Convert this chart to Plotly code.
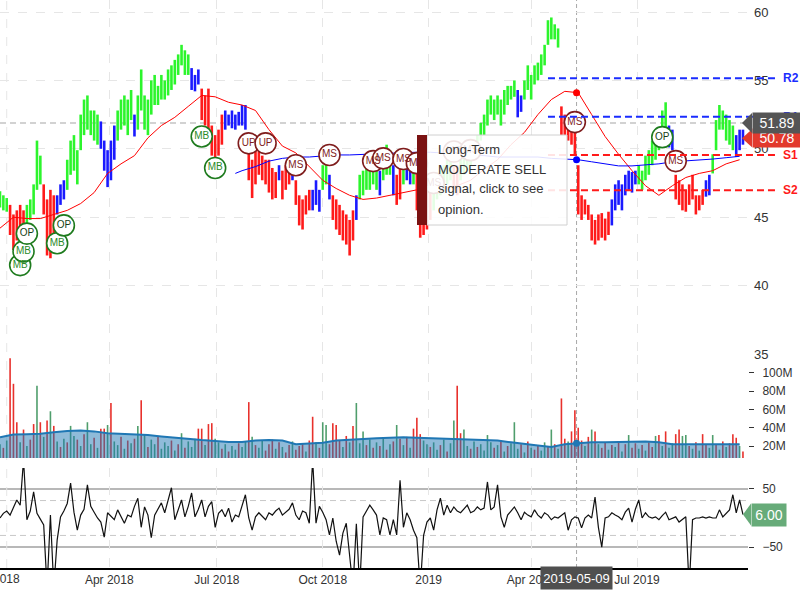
import pandas as pd
import plotly.graph_objects as go

# ---------------- calendar ----------------
holidays = ["2018-01-01", "2018-01-15", "2018-02-19", "2018-03-30", "2018-05-28",
            "2018-07-04", "2018-09-03", "2018-11-22", "2018-12-05", "2018-12-25",
            "2019-01-01", "2019-01-21", "2019-02-18", "2019-04-19", "2019-05-27",
            "2019-07-04", "2019-09-02"]
axis_start, axis_end = "2017-12-26", "2019-10-03"
tick_dates = ["2018-01-02", "2018-04-02", "2018-07-02", "2018-10-01",
              "2019-01-02", "2019-04-01", "2019-07-01"]
tick_text = ["2018", "Apr 2018", "Jul 2018", "Oct 2018", "2019", "Apr 2019", "Jul 2019"]

# ---------------- price bars (one bar per two sessions) ----------------
bar_low = [45.7, 45.5, 45.4, 43.7, 42.6, 43.3, 44.1, 43.7, 44.4, 44.8,
           45.2, 47.0, 47.4, 45.2, 42.2, 42.0, 43.5, 45.2, 45.9, 46.3,
           47.0, 48.1, 48.4, 47.4, 49.9, 51.0, 51.4, 51.0, 50.6, 50.3,
           50.0, 48.4, 47.2, 47.7, 49.2, 50.6, 51.4, 51.7, 51.0, 52.1,
           50.9, 51.4, 52.8, 51.4, 51.0, 52.5, 53.2, 53.2, 53.6, 53.6,
           53.9, 54.3, 54.7, 55.4, 56.1, 55.4, 55.4, 54.3, 54.2, 54.7,
           52.1, 51.7, 51.4, 49.5, 49.2, 49.5, 50.3, 51.4, 51.7, 51.5,
           51.4, 51.7, 51.7, 51.4, 47.7, 46.4, 47.4, 48.1, 47.7, 47.4,
           46.8, 46.3, 46.4, 47.7, 46.3, 47.0, 47.4, 47.7, 45.9, 44.4,
           44.1, 45.2, 45.5, 45.5, 45.9, 45.4, 47.0, 47.4, 46.3, 44.8,
           44.1, 43.7, 43.3, 43.0, 42.2, 43.3, 44.8, 46.3, 46.6, 47.0,
           47.0, 47.4, 47.0, 46.6, 47.7, 48.1, 48.1, 46.6, 45.9, 46.3,
           47.4, 47.7, 47.4, 47.4, 45.5, 43.5, 43.7, 44.1, 44.8, 45.5,
           46.3, 46.6, 47.0, 47.4, 47.7, 47.0, 46.6, 47.7, 48.1, 48.4,
           48.8, 49.2, 49.5, 50.6, 51.0, 51.7, 52.5, 52.1, 52.5, 51.7,
           52.5, 53.2, 53.6, 53.8, 52.3, 52.7, 53.6, 54.3, 53.6, 54.7,
           55.0, 55.4, 56.1, 57.6, 58.0, 58.0, 57.4, 51.0, 51.0, 50.6,
           50.3, 49.5, 45.2, 44.8, 45.2, 44.8, 43.3, 43.0, 43.3, 43.5,
           43.3, 43.7, 44.4, 45.5, 45.9, 45.5, 46.6, 47.0, 46.8, 47.4,
           47.4, 47.0, 47.7, 48.1, 48.8, 49.2, 49.9, 51.0, 51.4, 50.1,
           49.9, 46.3, 45.9, 45.5, 45.4, 45.9, 46.3, 45.2, 45.5, 45.9,
           46.5, 46.6, 48.2, 49.9, 51.4, 51.4, 50.6, 50.3, 49.9, 49.4,
           49.9, 50.3]
bar_high = [46.9, 46.6, 46.4, 45.9, 45.2, 45.5, 45.9, 45.5, 45.9, 46.3,
            47.4, 50.6, 49.5, 47.4, 46.3, 47.0, 46.6, 46.6, 47.4, 47.7,
            49.2, 50.6, 51.0, 49.9, 52.5, 53.6, 53.9, 52.8, 52.8, 52.5,
            52.0, 50.6, 49.9, 50.6, 51.7, 52.8, 53.6, 53.9, 53.6, 54.3,
            52.5, 53.9, 55.8, 53.9, 53.6, 55.0, 55.4, 54.6, 55.4, 55.0,
            55.8, 56.1, 56.5, 56.9, 57.6, 57.2, 56.9, 55.9, 55.4, 55.8,
            54.4, 53.9, 54.4, 51.7, 51.0, 51.4, 52.5, 52.8, 52.5, 52.8,
            52.5, 52.7, 53.2, 53.2, 49.9, 49.2, 49.9, 49.9, 49.5, 49.2,
            49.2, 48.6, 48.3, 48.8, 48.4, 48.8, 49.2, 48.8, 47.7, 46.6,
            46.3, 46.6, 47.0, 47.0, 47.7, 47.0, 48.8, 49.2, 48.1, 46.6,
            46.3, 45.9, 45.5, 45.2, 44.8, 45.5, 46.6, 48.1, 48.4, 48.6,
            48.8, 49.2, 48.8, 48.4, 49.5, 50.3, 49.9, 48.8, 48.1, 48.8,
            49.5, 49.9, 49.5, 49.2, 48.8, 47.0, 46.6, 47.0, 47.4, 47.7,
            48.1, 48.4, 48.8, 49.2, 49.2, 48.8, 48.8, 49.2, 49.9, 50.3,
            50.6, 50.6, 51.0, 51.9, 52.5, 53.6, 53.9, 53.6, 53.9, 53.6,
            54.3, 54.6, 54.6, 55.0, 54.3, 53.9, 55.0, 56.1, 55.4, 56.1,
            56.3, 56.9, 57.6, 59.4, 59.6, 59.1, 58.8, 53.1, 52.5, 52.1,
            52.5, 51.7, 48.8, 46.6, 46.3, 45.9, 45.2, 44.8, 45.2, 45.3,
            44.9, 45.4, 46.3, 47.4, 47.7, 47.4, 48.1, 48.4, 48.3, 48.4,
            48.8, 48.4, 49.5, 49.9, 50.6, 50.6, 51.4, 52.8, 53.4, 51.7,
            51.4, 48.1, 47.7, 47.4, 47.0, 47.4, 48.1, 46.6, 46.6, 47.0,
            47.7, 48.1, 49.6, 52.1, 53.2, 52.8, 52.5, 52.1, 51.7, 51.0,
            51.4, 51.4]
# signal colour of each bar: g = bullish, b = neutral, r = bearish (run lengths)
signal_runs = [("g", 3), ("r", 5), ("g", 5), ("r", 4), ("b", 3), ("g", 10), ("b", 5),
               ("g", 5), ("b", 1), ("g", 16), ("b", 3), ("r", 7), ("b", 7), ("r", 9),
               ("b", 1), ("r", 3), ("b", 1), ("r", 5), ("b", 3), ("g", 2), ("b", 1),
               ("r", 7), ("b", 1), ("g", 6), ("b", 1), ("g", 3), ("b", 1), ("r", 2),
               ("g", 1), ("b", 2), ("g", 1), ("r", 5), ("g", 6), ("r", 2), ("g", 17),
               ("b", 2), ("g", 11), ("r", 15), ("b", 8), ("g", 9), ("b", 2), ("r", 9),
               ("b", 2), ("g", 7), ("b", 3)]

# moving averages, sampled every 4th bar
red_ma = [44.2, 45.0, 44.9, 44.9, 45.2, 45.5, 46.0, 46.8, 48.2, 48.9,
          49.5, 50.8, 51.7, 52.3, 53.1, 53.9, 53.8, 53.4, 53.2, 52.8,
          51.4, 50.2, 49.7, 48.7, 47.7, 47.1, 46.6, 46.3, 46.4, 46.6,
          46.8, 47.0, 47.0, 47.1, 47.3, 47.7, 48.5, 49.2, 50.3, 51.2,
          52.5, 53.6, 54.2, 54.1, 52.5, 50.9, 49.6, 48.4, 47.3, 46.6,
          47.3, 47.9, 48.2, 48.4, 48.9, 49.2]
blue_ma_first = 70
blue_ma = [48.2, 48.4, 48.7, 49.1, 49.3, 49.4, 49.4, 49.5, 49.55, 49.55,
           49.6, 49.6, 49.7, 49.7, 49.75, 49.75, 49.7, 49.6, 49.55, 49.5,
           49.4, 49.4, 49.4, 49.4, 49.3, 49.25, 49.2, 49.05, 48.9, 48.75,
           48.75, 48.8, 48.9, 49.05, 49.1, 49.2, 49.25, 49.35, 49.45]

# support / resistance
sr_start = "2019-04-15"
sr_names = ["R2", "R1", "S1", "S2"]
sr_values = [55.15, 52.35, 49.55, 46.97]

# signal bubbles (bar index, price, label)
sig_idx = [6, 7, 8, 17, 19, 60, 64, 74, 79, 88, 98, 111, 114, 120, 124,
           129, 135, 140, 171, 197, 201]
sig_price = [41.5, 42.5, 43.8, 43.1, 44.4, 50.9, 48.6, 50.4, 50.4, 48.8, 49.55,
             49.1, 49.3, 49.25, 48.95, 47.5, 49.8, 49.9, 51.95, 50.85, 49.1]
sig_text = ["MB", "MB", "OP", "MB", "OP", "MB", "MB", "UP", "UP", "MS", "MS",
            "MS", "MS", "MS", "MS", "MS", "MS", "MS", "MS", "OP", "MS"]

# ---------------- volume (millions) ----------------
volume = [22, 18, 26, 116, 88, 46, 24, 38, 20, 27,
          44, 86, 46, 30, 48, 58, 42, 25, 19, 28,
          24, 42, 31, 27, 20, 33, 46, 22, 29, 18,
          39, 39, 43, 67, 25, 21, 30, 17, 26, 23,
          28, 42, 70, 33, 19, 27, 22, 31, 17, 24,
          20, 26, 15, 22, 34, 18, 25, 19, 28, 39,
          39, 21, 44, 45, 28, 24, 17, 22, 14, 20,
          16, 23, 19, 25, 68, 30, 21, 18, 26, 15,
          22, 27, 17, 24, 19, 13, 21, 25, 16, 20,
          23, 14, 26, 52, 24, 18, 46, 43, 22, 45,
          43, 26, 19, 31, 24, 42, 67, 23, 36, 21,
          27, 18, 24, 20, 29, 16, 22, 25, 43, 28,
          21, 30, 18, 39, 51, 33, 26, 22, 19, 24,
          16, 21, 27, 14, 23, 48, 86, 34, 38, 20,
          17, 25, 19, 22, 15, 32, 24, 18, 21, 26,
          14, 20, 23, 46, 17, 22, 13, 25, 18, 16,
          21, 15, 24, 19, 38, 22, 17, 72, 28, 25,
          36, 59, 40, 26, 20, 30, 38, 36, 22, 18,
          24, 16, 21, 19, 25, 14, 22, 32, 18, 23,
          17, 21, 15, 24, 19, 31, 32, 20, 36, 18,
          23, 33, 38, 31, 32, 20, 17, 24, 15, 33,
          21, 18, 32, 22, 16, 25, 19, 23, 33, 29,
          20, 14]
volume_dir = ("grgrrrgrgr" "rgrgrgrgrg" "rggrgrggrg" "rrgrggrgrg" "rgrgrggrgg"
              "grgrgrgggr" "rgrrggrgrg" "grggrgrggr" "rrgrgrrgrr" "rgrrgrggrr"
              "rrgrgrgggr" "grgrgrgrgr" "grgrrrggrg" "grgrggrrgg" "rgrggggrgr"
              "grgggrgrgr" "rggrgrgrrg" "rrrrgrgrgr" "rgrgrgrgrr" "grgrrgrgrg"
              "grrggrgrgr" "rggrgrgrrr" "gr")
volume_ma = [29.5, 32.5, 33, 33.5, 35, 36.5, 37, 36, 34, 33.5,
             33, 32, 30.5, 29, 28, 26.5, 25.5, 24.5, 24.5, 26,
             26.5, 26, 22, 22.5, 23.5, 26, 27, 28, 28.5, 29,
             29.5, 29, 28.5, 28.5, 28, 27.5, 27, 26, 24, 22,
             20.5, 19, 22, 23, 24, 24, 24.5, 25, 25, 24,
             22, 22, 22, 22, 22, 22]

# ---------------- oscillator ----------------
osc = [0, 8, 12, 5, 18, 31, 22, 100, -3, 12,
       45, 8, -2, -12, -120, 5, -120, -38, 2, 12,
       25, 60, 10, -21, 5, 15, 57, 20, 10, 0,
       -7, -33, 9, 2, -3, 14, 2, -9, 5, 2,
       20, 34, -16, 19, 5, -34, 5, 15, 26, 9,
       30, 52, -3, 15, 31, 2, 20, 43, 2, 15,
       31, 2, 20, 28, -16, 8, 14, 2, 17, -7,
       5, 2, 20, 40, 0, -21, 2, 9, 3, -3,
       9, 5, 12, 17, 5, 10, 15, 26, 5, -3,
       12, 9, -9, 100, -9, 20, 10, -3, -29, 0,
       -40, -64, -26, -9, -76, -120, -10, -120, 2, 12,
       22, 14, 5, -29, 0, -3, -29, -3, -29, 65,
       -16, 9, -3, -21, -34, -120, -30, -7, 0, -21,
       14, 34, 5, 22, 9, 19, 12, 9, 15, 22,
       9, 12, 19, 14, 17, 62, 14, 19, 57, 2,
       -16, 5, 12, 19, 9, -3, 10, 5, 2, 14,
       5, 0, 9, 5, -3, 2, 0, 4, 9, -21,
       -3, 2, 0, -17, 0, 5, 0, 36, -16, -50,
       0, 2, 9, 5, 2, -3, 10, 17, -7, 15,
       31, 0, 9, 2, 0, 2, -3, 4, 10, -3,
       0, 2, -7, -3, 2, -120, -3, 0, 0, 2,
       0, 2, 0, 0, 14, 2, 9, 14, 40, 9,
       31, 6]
osc_bands = [50, 30, -30, -50]

# crosshair / hover readout
cross_date = "2019-05-09"
cross_price = 51.89
cross_red_ma = 54.1
cross_blue_ma = 49.2
cross_vol_ma = 23
last_close = 50.78
last_osc = 6.00

# ---------------- build ----------------
trading_days = pd.bdate_range(axis_start, axis_end, freq="C", holidays=holidays)
n = min(len(bar_low), len(bar_high), len(volume), len(osc))
dates = list(trading_days[::2][:n])
signal = "".join(c * k for c, k in signal_runs)[:n]

PW, PH = 748.0, 568.0
FONT = "Liberation Sans, Arial, sans-serif"
price_rng = [35, 60.877]
price_dom = [(PH - 354) / PH, 1.0]
vol_rng = [6.9, 119.5]
vol_dom = [(PH - 458) / PH, (PH - 355) / PH]
osc_rng = [-86, 86]
osc_dom = [0.0, (PH - 468) / PH]


def units_per_px(rng, dom):
    return (rng[1] - rng[0]) / ((dom[1] - dom[0]) * PH)


def xfrac(d):
    return trading_days.get_loc(pd.Timestamp(d)) / (len(trading_days) - 1)


fig = go.Figure()

# price bars by signal colour
bar_colors = {"g": "#2cf52c", "b": "#1a1aff", "r": "#ff1a1a"}
for key in ["g", "b", "r"]:
    xs, ys = [], []
    for i in range(n):
        if signal[i] == key:
            xs += [dates[i], dates[i], None]
            ys += [bar_low[i], bar_high[i], None]
    fig.add_trace(go.Scatter(x=xs, y=ys, mode="lines", line=dict(color=bar_colors[key], width=2.6),
                             hoverinfo="skip", showlegend=False, xaxis="x", yaxis="y"))

# moving averages
red_idx = list(range(0, n, 4))[:len(red_ma)]
fig.add_trace(go.Scatter(x=[dates[i] for i in red_idx], y=red_ma, mode="lines",
                         line=dict(color="#ff0000", width=1), showlegend=False, xaxis="x", yaxis="y"))
blue_idx = ([blue_ma_first] + list(range(blue_ma_first + 2, n, 4)))[:len(blue_ma)]
fig.add_trace(go.Scatter(x=[dates[i] for i in blue_idx], y=blue_ma, mode="lines",
                         line=dict(color="#0000ff", width=1), showlegend=False, xaxis="x", yaxis="y"))

# signal bubbles
green_sig = {"MB": "#2a8a2a", "OP": "#173f17"}
for group, edge in [(["MB", "OP"], "#1e7b1e"), (["MS", "UP"], "#7f1d1d")]:
    sel = [k for k, t in enumerate(sig_text) if t in group]
    fig.add_trace(go.Scatter(
        x=[dates[sig_idx[k]] for k in sel], y=[sig_price[k] for k in sel],
        mode="markers+text", text=[sig_text[k] for k in sel], textposition="middle center",
        textfont=dict(family=FONT, size=10,
                      color=[green_sig.get(sig_text[k], "#7f1d1d") for k in sel]),
        marker=dict(symbol="circle", size=21, color="white", line=dict(color=edge, width=1.6)),
        showlegend=False, xaxis="x", yaxis="y"))

# volume bars
vol_colors = {"r": "#e8312c", "g": "#4f9e6c"}
for key in ["g", "r"]:
    xs, ys = [], []
    for i in range(n):
        if volume_dir[i] == key:
            xs += [dates[i], dates[i], None]
            ys += [0, volume[i], None]
    fig.add_trace(go.Scatter(x=xs, y=ys, mode="lines", line=dict(color=vol_colors[key], width=1.6),
                             showlegend=False, xaxis="x", yaxis="y2"))
vidx = list(range(0, n, 4))[:len(volume_ma)]
fig.add_trace(go.Scatter(x=[dates[i] for i in vidx], y=volume_ma, mode="lines", fill="tozeroy",
                         fillcolor="rgba(31,119,180,0.5)", line=dict(color="#1f77b4", width=2),
                         showlegend=False, xaxis="x", yaxis="y2"))

# oscillator
fig.add_trace(go.Scatter(x=dates, y=osc[:n], mode="lines", line=dict(color="#111111", width=1.2),
                         showlegend=False, xaxis="x", yaxis="y3"))

# crosshair dots
fig.add_trace(go.Scatter(x=[cross_date], y=[cross_red_ma], mode="markers",
                         marker=dict(color="#ff0000", size=7), showlegend=False, xaxis="x", yaxis="y"))
fig.add_trace(go.Scatter(x=[cross_date], y=[cross_blue_ma], mode="markers",
                         marker=dict(color="#0000ff", size=7), showlegend=False, xaxis="x", yaxis="y"))
fig.add_trace(go.Scatter(x=[cross_date], y=[cross_vol_ma], mode="markers",
                         marker=dict(color="#1f77b4", size=7), showlegend=False, xaxis="x", yaxis="y2"))

shapes, annotations = [], []

# crosshair lines
shapes.append(dict(type="line", xref="x", yref="paper", x0=cross_date, x1=cross_date, y0=0, y1=1,
                   line=dict(color="#a8a8a8", width=1, dash="4px,3px"), layer="below"))
shapes.append(dict(type="line", xref="paper", yref="y", x0=0, x1=1, y0=cross_price, y1=cross_price,
                   line=dict(color="#c4c4c4", width=1.5, dash="6px,4px"), layer="below"))

# oscillator bands
for v in osc_bands:
    solid = abs(v) == 50
    shapes.append(dict(type="line", xref="paper", yref="y3", x0=0, x1=1, y0=v, y1=v, layer="below",
                       line=dict(color="#a0a0a0" if solid else "#c8c8c8", width=1.5 if solid else 1,
                                 dash="solid" if solid else "6px,4px")))

# support / resistance
x_sr0 = xfrac(sr_start)
x_sr1 = 775 / PW
for name, v in zip(sr_names, sr_values):
    col = "#1a2cff" if name.startswith("R") else "#ff1a1a"
    shapes.append(dict(type="line", xref="paper", yref="y", x0=x_sr0, x1=x_sr1, y0=v, y1=v,
                       line=dict(color=col, width=2, dash="7px,4px")))
    annotations.append(dict(xref="paper", yref="y", x=781 / PW, y=v, xanchor="left", yanchor="middle",
                            text="<b>%s</b>" % name, showarrow=False,
                            font=dict(family=FONT, size=12, color=col)))

# value tags


def tag(yref, yval, half_px, upp, color, text, tip_px, body_px, body_w):
    h = half_px * upp
    shapes.append(dict(type="path", xref="paper", yref=yref,
                       path="M %f,%f L %f,%f L %f,%f Z" % (tip_px / PW, yval, body_px / PW, yval + h,
                                                         body_px / PW, yval - h),
                       fillcolor=color, line=dict(width=0)))
    annotations.append(dict(xref="paper", yref=yref, x=body_px / PW, y=yval, xanchor="left",
                            yanchor="middle", text=text, showarrow=False, bgcolor=color,
                            width=body_w, height=2 * half_px, borderpad=0, align="center",
                            font=dict(family=FONT, size=14, color="white")))


pupp = units_per_px(price_rng, price_dom)
tag("y", last_close, 9, pupp, "#e2392d", "%.2f" % last_close, 742, 752, 48)
tag("y", cross_price, 10, pupp, "#555555", "%.2f" % cross_price, 742, 752, 48)
tag("y3", last_osc, 11, units_per_px(osc_rng, osc_dom), "#67ab79", "%.2f" % last_osc, 743, 751, 34)

# date tag of crosshair
annotations.append(dict(xref="x", yref="paper", x=cross_date, y=(PH - 566) / PH, xanchor="center",
                        yanchor="top", text=cross_date, showarrow=False, bgcolor="#4f4f4f",
                        width=71, height=22, borderpad=0,
                        font=dict(family=FONT, size=13, color="white")))

# first year label, which sits at the very left edge of the chart
annotations.append(dict(xref="x", yref="paper", x=tick_dates[0], y=(PH - 570) / PH, xanchor="center",
                        yanchor="top", text=tick_text[0], showarrow=False,
                        font=dict(family=FONT, size=12, color="#333333")))

# tooltip
y_top, y_bot = (PH - 135) / PH, (PH - 225) / PH
shapes.append(dict(type="rect", xref="paper", yref="paper", x0=427 / PW, x1=567 / PW, y0=y_bot, y1=y_top,
                   fillcolor="rgba(255,255,255,0.88)", line=dict(color="#d0d0d0", width=1)))
shapes.append(dict(type="rect", xref="paper", yref="paper", x0=417 / PW, x1=427 / PW, y0=y_bot, y1=y_top,
                   fillcolor="#7a1212", line=dict(width=0)))
for k, line in enumerate(["Long-Term", "MODERATE SELL", "signal, click to see", "opinion."]):
    annotations.append(dict(xref="paper", yref="paper", x=436 / PW, y=(PH - (149 + 20 * k)) / PH,
                            xanchor="left", yanchor="middle", text=line, showarrow=False,
                            font=dict(family=FONT, size=13, color="#333333")))

grid = dict(showgrid=True, gridcolor="#e6e6e6", griddash="dash", gridwidth=1)
fig.update_layout(
    width=800, height=600,
    margin=dict(l=0, r=52, t=0, b=32),
    paper_bgcolor="white", plot_bgcolor="white",
    font=dict(family=FONT, color="#333333"),
    showlegend=False,
    hovermode=False,
    xaxis=dict(type="date", range=[axis_start, axis_end], anchor="y3",
               rangebreaks=[dict(bounds=["sat", "mon"]), dict(values=holidays)],
               tickvals=tick_dates[1:], ticktext=tick_text[1:], tickfont=dict(size=12, color="#333"),
               showline=True, linecolor="#000000", linewidth=1.5, ticks="", zeroline=False, **grid),
    yaxis=dict(domain=price_dom, range=price_rng, side="right", anchor="x",
               tickvals=[35, 40, 45, 50, 55, 60], tickfont=dict(size=13, color="#333"),
               ticks="", ticklabelstandoff=5, zeroline=False, showline=False, **grid),
    yaxis2=dict(domain=vol_dom, range=vol_rng, side="right", anchor="x",
                tickvals=[20, 40, 60, 80, 100], ticktext=["20M", "40M", "60M", "80M", "100M"],
                ticks="outside", ticklen=5, tickcolor="#333", tickwidth=1, ticklabelstandoff=6,
                tickfont=dict(size=12, color="#333"), showgrid=False, zeroline=False, showline=False),
    yaxis3=dict(domain=osc_dom, range=osc_rng, side="right", anchor="x",
                tickvals=[-50, 50], ticks="outside", ticklen=5, tickcolor="#333", tickwidth=1,
                ticklabelstandoff=6, tickfont=dict(size=12, color="#333"),
                showgrid=False, zeroline=False, showline=False),
    shapes=shapes,
    annotations=annotations,
)
# keep the Jan-2018 grid line that the first (annotated) tick would draw
shapes_grid = dict(type="line", xref="x", yref="paper", x0=tick_dates[0], x1=tick_dates[0], y0=0, y1=1,
                   line=dict(color="#e6e6e6", width=1, dash="dash"), layer="below")
fig.add_shape(**shapes_grid)

fig.write_html("out.html")
